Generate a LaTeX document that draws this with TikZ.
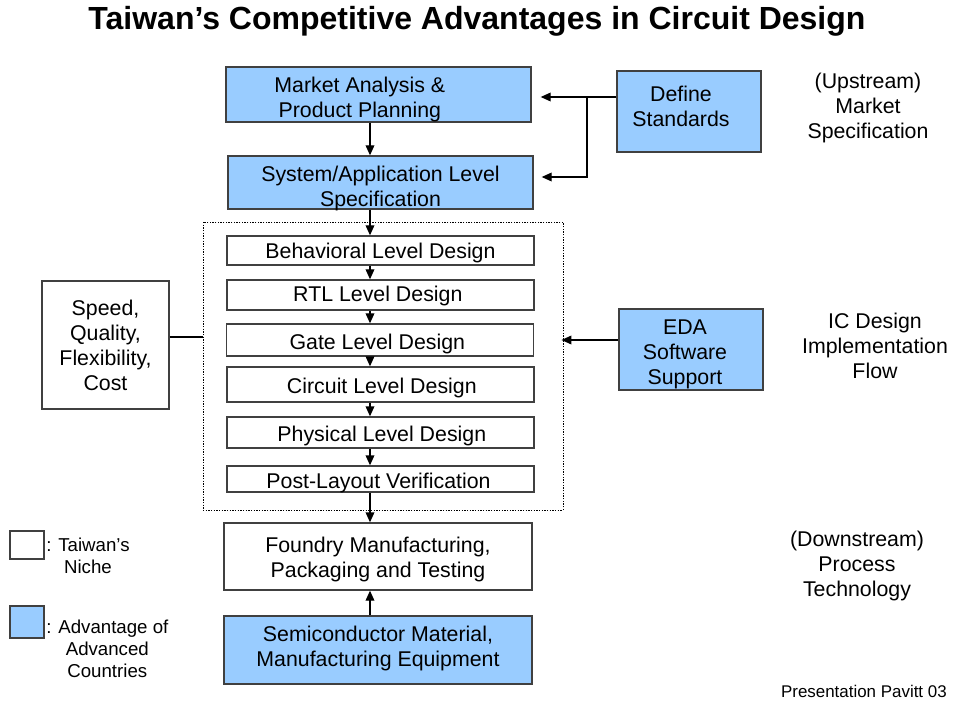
\documentclass[tikz,border=0pt]{standalone}
\usepackage{fontspec}
\setmainfont{Liberation Sans}
\usetikzlibrary{arrows.meta}
\definecolor{advblue}{HTML}{99CCFF}
\definecolor{boxline}{HTML}{404040}
\newcommand\shiftline[2]{\raisebox{#1}[\height][\depth]{#2}}
\tikzset{
  box/.style={draw=boxline, line width=1pt, rectangle, align=center, inner sep=0pt,
    font=\fontsize{16}{18.75}\selectfont},
  bluebox/.style={box, fill=advblue},
  whitebox/.style={box, fill=white},
  dotbox/.style={draw=black, line width=0.6pt, dash pattern=on 1pt off 1pt, rectangle, inner sep=0pt},
  arr/.style={draw=black, line width=1pt, -{Triangle[length=7.5pt,width=6.5pt]}},
  conn/.style={draw=black, line width=1pt},
  sidelabel/.style={align=center, inner sep=0pt, font=\fontsize{16}{18.75}\selectfont},
  legendlabel/.style={align=center, inner sep=0pt, font=\fontsize{14}{16.5}\selectfont},
}
\begin{document}
\begin{tikzpicture}[x=0.75pt, y=-0.75pt]
\useasboundingbox (0,0) rectangle (953,702);
\fill[white] (0,0) rectangle (953,702);

% title
\node[inner sep=0pt, font=\fontsize{24}{28}\selectfont\bfseries] (title) at (477,21)
  {Taiwan’s Competitive Advantages in Circuit Design};

% upper boxes
\node[bluebox, minimum width=228.75pt, minimum height=41.25pt] (mkt) at (378.5,94.5)
  {\hspace*{-28pt}\shiftline{-3.4pt}{Market Analysis \&}\\\hspace*{-28pt}\shiftline{-3.4pt}{Product Planning}};
\node[bluebox, minimum width=228.75pt, minimum height=39.75pt] (sys) at (380.5,182.5)
  {\shiftline{-4.5pt}{System/Application Level}\\\shiftline{-4.5pt}{Specification}};
\node[bluebox, minimum width=108pt, minimum height=60.75pt] (std) at (689,111.5)
  {\hspace*{-12pt}\shiftline{3.75pt}{Define}\\\hspace*{-12pt}\shiftline{3.75pt}{Standards}};
\node[bluebox, minimum width=108pt, minimum height=60.75pt] (eda) at (691,349.5)
  {\hspace*{-9pt}\shiftline{-3.75pt}{EDA}\\\hspace*{-9pt}\shiftline{-3.75pt}{Software}\\\hspace*{-9pt}\shiftline{-3.75pt}{Support}};

% dotted implementation region
\node[dotbox, minimum width=270pt, minimum height=216pt] (dot) at (383,366) {};

% design levels
\node[whitebox, minimum width=230.25pt, minimum height=21.75pt] (beh) at (380.5,250.5) {\shiftline{-1.5pt}{Behavioral Level Design}};
\node[whitebox, minimum width=230.25pt, minimum height=22.5pt] (rtl) at (380.5,295) {\hspace*{-4pt}\shiftline{-0.8pt}{RTL Level Design}};
\node[whitebox, minimum width=230.25pt, minimum height=24pt] (gate) at (380,340) {\hspace*{-4pt}\shiftline{-2.8pt}{Gate Level Design}};
\node[whitebox, minimum width=230.25pt, minimum height=26.25pt] (circ) at (380.5,384.5) {\hspace*{2pt}\shiftline{-2.8pt}{Circuit Level Design}};
\node[whitebox, minimum width=230.25pt, minimum height=23.25pt] (phys) at (380.5,432.5) {\hspace*{2pt}\shiftline{-2.3pt}{Physical Level Design}};
\node[whitebox, minimum width=230.25pt, minimum height=19.5pt] (post) at (380.5,479) {\hspace*{-3pt}\shiftline{-2.8pt}{Post-Layout Verification}};

% left criteria box
\node[whitebox, minimum width=95.25pt, minimum height=96pt] (speed) at (105.5,345)
  {Speed,\\Quality,\\Flexibility,\\Cost};

% lower boxes
\node[whitebox, minimum width=231pt, minimum height=50.25pt] (fdry) at (378,556.5)
  {\shiftline{-1.9pt}{Foundry Manufacturing,}\\\shiftline{-1.9pt}{Packaging and Testing}};
\node[bluebox, minimum width=231pt, minimum height=51pt] (semi) at (378,650)
  {\shiftline{1.1pt}{Semiconductor Material,}\\\shiftline{1.1pt}{Manufacturing Equipment}};

% side labels
\node[sidelabel] (up) at (868,108) {(Upstream)\\Market\\Specification};
\node[sidelabel] (ic) at (875,346) {IC Design\\Implementation\\Flow};
\node[sidelabel] (down) at (857,565.5) {(Downstream)\\Process\\Technology};

% legend
\node[draw=boxline, line width=1pt, fill=white, minimum width=25.5pt, minimum height=21pt, inner sep=0pt] (legw) at (27,545) {};
\node[draw=boxline, line width=1pt, fill=advblue, minimum width=25.5pt, minimum height=24pt, inner sep=0pt] (legb) at (27,622) {};
\node[legendlabel, anchor=west] (legwt) at (46,556) {: Taiwan’s\\Niche};
\node[legendlabel, anchor=west] (legbt) at (46,649) {: Advantage of\\Advanced\\Countries};

% footer
\node[inner sep=0pt, anchor=east, font=\fontsize{12.7}{15}\selectfont] (foot) at (947,691) {Presentation Pavitt 03};

% connectors
\coordinate (ax) at (370,0);
\draw[arr] (mkt.south -| ax) -- (sys.north -| ax);
\draw[arr] (sys.south -| ax) -- (beh.north -| ax);
\draw[arr] (beh.south -| ax) -- (rtl.north -| ax);
\draw[arr] (rtl.south -| ax) -- (gate.north -| ax);
\draw[arr] (gate.south -| ax) -- (circ.north -| ax);
\draw[arr] (circ.south -| ax) -- (phys.north -| ax);
\draw[arr] (phys.south -| ax) -- (post.north -| ax);
\draw[arr] (post.south -| ax) -- (fdry.north -| ax);
\draw[arr] (semi.north -| ax) -- (fdry.south -| ax);

\coordinate (j1) at (587,97);
\coordinate (j2) at (587,177);
\draw[conn] (std.west |- j1) -- (j1);
\draw[arr, shorten >=6.75pt] (j1) -- (mkt.east |- j1);
\draw[arr, shorten >=6pt] (j1) -- (j2) -- (sys.east |- j2);

\coordinate (e1) at (619,340);
\draw[arr, shorten >=-1.5pt] (eda.west |- e1) -- (dot.east |- e1);

\coordinate (s1) at (169,337);
\draw[conn] (speed.east |- s1) -- (dot.west |- s1);
\end{tikzpicture}
\end{document}
